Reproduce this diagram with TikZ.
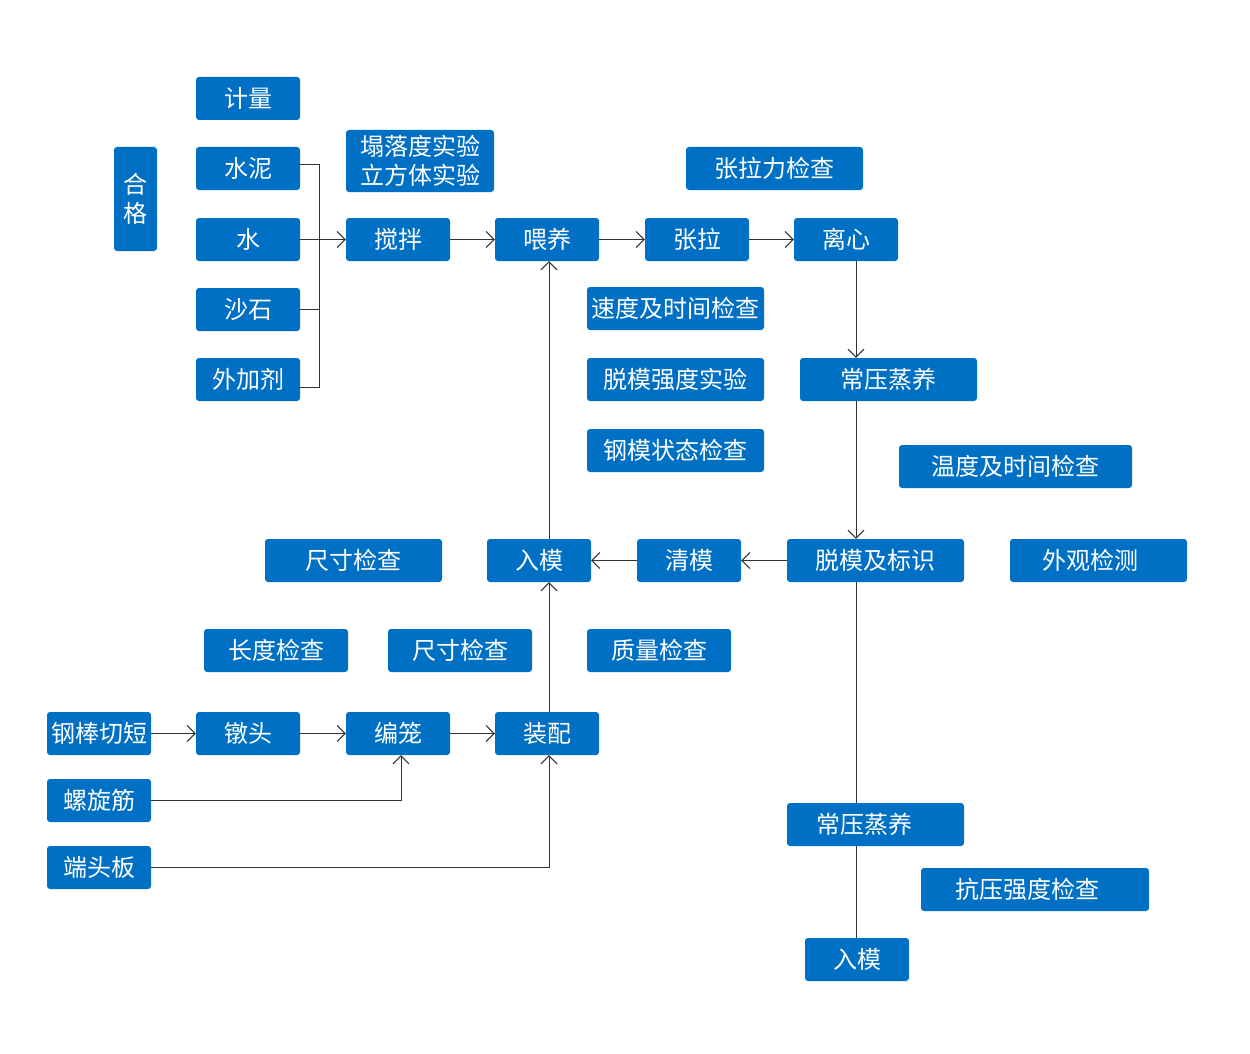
\documentclass[tikz,border=0pt]{standalone}
\usepackage{fontspec}
\setmainfont{Noto Sans CJK SC}
\usetikzlibrary{arrows.meta}
\definecolor{boxblue}{HTML}{0070C4}
\definecolor{linegray}{HTML}{333333}
\tikzset{
  box/.style={fill=boxblue, rounded corners=3pt, text=white, inner sep=0pt,
    font=\fontsize{24}{29}\selectfont, align=center},
  conn/.style={draw=linegray, line width=1pt},
  arr/.style={conn, -{Straight Barb[length=8pt,width=16pt,line width=1pt]}},
}
\newcommand{\bx}[6]{% name, x1, y1, x2, y2, text
  \node[box, minimum width={#4-#2}, minimum height={#5-#3}] (#1) at ({(#2+#4)/2},{(#3+#5)/2}) {#6};}
\begin{document}
\begin{tikzpicture}[x=1pt,y=-1pt]
\useasboundingbox (0,0) rectangle (1250,1054);
% left column
\bx{jl}{196}{77}{300}{120}{计量}
\bx{sn}{196}{147}{300}{190}{水泥}
\bx{sh}{196}{218}{300}{261}{水}
\bx{ss}{196}{288}{300}{331}{沙石}
\bx{wj}{196}{358}{300}{401}{外加剂}
\bx{hg}{114}{147}{157}{251}{合\\格}
\bx{tl}{346}{130}{494}{192}{塌落度实验\\立方体实验}
\bx{jb}{346}{218}{450}{261}{搅拌}
\bx{wy}{495}{218}{599}{261}{喂养}
\bx{zl}{645}{218}{749}{261}{张拉}
\bx{lx}{794}{218}{898}{261}{离心}
\bx{zlj}{686}{147}{863}{190}{张拉力检查}
\bx{sd}{587}{287}{764}{330}{速度及时间检查}
\bx{tm}{587}{358}{764}{401}{脱模强度实验}
\bx{gm}{587}{429}{764}{472}{钢模状态检查}
\bx{cy}{800}{358}{977}{401}{常压蒸养}
\bx{wd}{899}{445}{1132}{488}{温度及时间检查}
\bx{cc}{265}{539}{442}{582}{尺寸检查}
\bx{rm}{487}{539}{591}{582}{入模}
\bx{qm}{637}{539}{741}{582}{清模}
\bx{tb}{787}{539}{964}{582}{脱模及标识}
\bx{wg}{1010}{539}{1187}{582}{外观检测\hspace{16pt}}
\bx{cd}{204}{629}{348}{672}{长度检查}
\bx{cc2}{388}{629}{532}{672}{尺寸检查}
\bx{zj}{587}{629}{731}{672}{质量检查}
\bx{gb}{47}{712}{151}{755}{钢棒切短}
\bx{dt}{196}{712}{300}{755}{镦头}
\bx{bl}{346}{712}{450}{755}{编笼}
\bx{zp}{495}{712}{599}{755}{装配}
\bx{lxj}{47}{779}{151}{822}{螺旋筋}
\bx{dtb}{47}{846}{151}{889}{端头板}
\bx{cy2}{787}{803}{964}{846}{常压蒸养\hspace{22pt}}
\bx{ky}{921}{868}{1149}{911}{抗压强度检查\hspace{16pt}}
\bx{rm2}{805}{938}{909}{981}{入模}
% bus
\coordinate (bt) at (319,164);
\coordinate (bb) at (319,387);
\draw[conn] (sn.east |- bt) -- (bt) -- (bb) -- (wj.east |- bb);
\draw[conn] (ss.east) -- (ss.east -| bt);
\draw[arr] (sh.east) -- (jb.west);
\draw[arr] (jb.east) -- (wy.west);
\draw[arr] (wy.east) -- (zl.west);
\draw[arr] (zl.east) -- (lx.west);
\draw[arr] (lx.south -| 856,0) -- (cy.north -| 856,0);
\draw[arr] (cy.south -| 856,0) -- (tb.north -| 856,0);
\draw[arr] (tb.west) -- (qm.east);
\draw[arr] (qm.west) -- (rm.east);
\draw[arr] (rm.north -| 549,0) -- (wy.south -| 549,0);
\draw[arr] (zp.north -| 549,0) -- (rm.south -| 549,0);
\draw[arr] (gb.east) -- (dt.west);
\draw[arr] (dt.east) -- (bl.west);
\draw[arr] (bl.east) -- (zp.west);
\draw[arr] (lxj.east) -- (lxj.east -| 401,0) -- (bl.south -| 401,0);
\draw[arr] (dtb.east) -- (dtb.east -| 549,0) -- (zp.south -| 549,0);
\draw[conn] (tb.south -| 856,0) -- (cy2.north -| 856,0);
\draw[conn] (cy2.south -| 856,0) -- (rm2.north -| 856,0);
\end{tikzpicture}
\end{document}
